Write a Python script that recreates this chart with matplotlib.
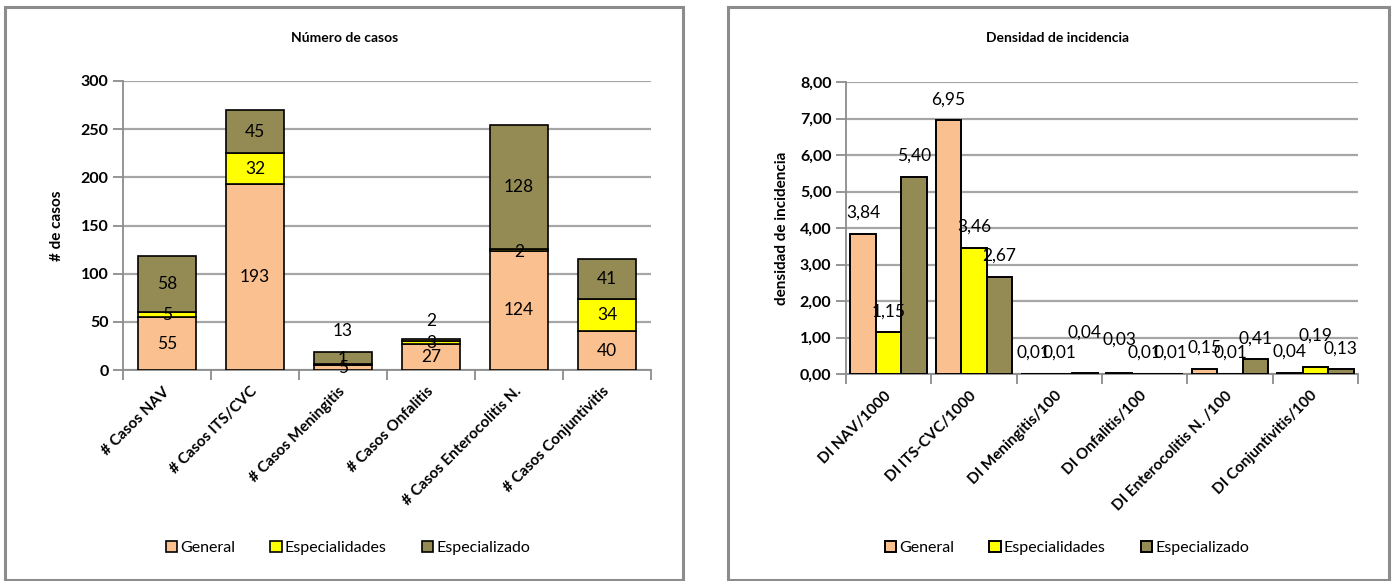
import numpy as np
import matplotlib.pyplot as plt
from matplotlib.patches import Rectangle

plt.rcParams['font.family'] = ['Lato', 'DejaVu Sans']

# Number of cases per infection type, stacked by unit type
casos_labels = ["# Casos NAV", "# Casos ITS/CVC", "# Casos Meningitis",
                "# Casos Onfalitis", "# Casos Enterocolitis N.", "# Casos Conjuntivitis"]
casos_general = [55, 193, 5, 27, 124, 40]
casos_especialidades = [5, 32, 1, 3, 2, 34]
casos_especializado = [58, 45, 13, 2, 128, 41]

# Incidence density per infection type
di_labels = ["DI NAV/1000", "DI ITS-CVC/1000", "DI Meningitis/100",
             "DI Onfalitis/100", "DI Enterocolitis N. /100", "DI Conjuntivitis/100"]
di_general = [3.84, 6.95, 0.01, 0.03, 0.15, 0.04]
di_especialidades = [1.15, 3.46, 0.01, 0.01, 0.01, 0.19]
di_especializado = [5.40, 2.67, 0.04, 0.01, 0.41, 0.13]

series_names = ["General", "Especialidades", "Especializado"]
colors = ["#FAC090", "#FFFF00", "#948A54"]

# extra vertical shift for a few crowded labels
casos_nudge = [[0, 0, 0, 0, 0, 0], [0, 0, 5.5, 0, -2, 0], [0, 0, 28, 20, 0, 0]]
di_nudge = [[0, 0, 0, 0.35, 0, 0], [0, 0, 0, 0, 0, 0.3], [0, 0, 0.52, 0, 0, 0]]

W, H = 1394, 581
fig = plt.figure(figsize=(W / 100, H / 100), dpi=100)

# chart frames
for x0, x1 in [(5, 683), (728, 1389)]:
    fig.add_artist(Rectangle((x0 / W, 1 - 580 / H), (x1 - x0) / W, (580 - 7) / H,
                             transform=fig.transFigure, fill=False,
                             edgecolor="#8c8c8c", linewidth=2.2))

grid_c = "#a6a6a6"


def style_axes(ax, labels):
    ax.set_axisbelow(True)
    ax.yaxis.grid(True, color=grid_c, linewidth=1.6)
    for s in ["top", "right"]:
        ax.spines[s].set_visible(False)
    for s in ["left", "bottom"]:
        ax.spines[s].set_color("#8c8c8c")
        ax.spines[s].set_linewidth(1.3)
    ax.set_xlim(-0.5, len(labels) - 0.5)
    ax.set_xticks(np.arange(len(labels) + 1) - 0.5)
    ax.set_xticklabels([])
    ax.set_xticks(np.arange(len(labels)), minor=True)
    ax.set_xticklabels(labels, minor=True, rotation=45, ha="right", va="center",
                       rotation_mode="anchor", fontsize=11, fontweight="bold")
    ax.tick_params(axis="x", which="major", length=7, color="#8c8c8c", width=1.3)
    ax.tick_params(axis="x", which="minor", length=0, pad=14)
    ax.tick_params(axis="y", length=7, color="#8c8c8c", width=1.3, labelsize=11.5)
    for t in ax.get_yticklabels():
        t.set_fontweight("bold")


# ---- left: stacked case counts ----
ax1 = fig.add_axes([123 / W, 1 - 370 / H, (651 - 123) / W, (370 - 81) / H])
x = np.arange(len(casos_labels))
bottom = np.zeros(len(x))
for k, vals in enumerate([casos_general, casos_especialidades, casos_especializado]):
    vals = np.array(vals, dtype=float)
    ax1.bar(x, vals, 0.67, bottom=bottom, color=colors[k], edgecolor="black",
            linewidth=1.2, label=series_names[k], zorder=3)
    for i, v in enumerate(vals):
        ax1.text(x[i], bottom[i] + v / 2 + casos_nudge[k][i], f"{int(v)}",
                 ha="center", va="center", fontsize=12.5, zorder=4)
    bottom += vals
ax1.set_ylim(0, 300)
ax1.set_yticks(range(0, 301, 50))
style_axes(ax1, casos_labels)
ax1.set_ylabel("# de casos", fontsize=11, fontweight="bold", labelpad=12)
fig.text(345 / W, 1 - 38 / H, "Número de casos", ha="center", va="center",
         fontsize=10, fontweight="bold")

# ---- right: grouped incidence density ----
ax2 = fig.add_axes([846 / W, 1 - 374 / H, (1358 - 846) / W, (374 - 82) / H])
x = np.arange(len(di_labels))
bw = 0.3
for k, vals in enumerate([di_general, di_especialidades, di_especializado]):
    pos = x + (k - 1) * bw
    ax2.bar(pos, vals, bw, color=colors[k], edgecolor="black", linewidth=1.4,
            label=series_names[k], zorder=3)
    for i, v in enumerate(vals):
        ax2.text(pos[i], v + 0.57 + di_nudge[k][i], f"{v:.2f}".replace(".", ","),
                 ha="center", va="center", fontsize=12.5, zorder=4)
ax2.set_ylim(0, 8)
ax2.set_yticks(range(0, 9))
ax2.set_yticklabels([f"{v},00" for v in range(0, 9)])
style_axes(ax2, di_labels)
ax2.set_ylabel("densidad de incidencia", fontsize=11, fontweight="bold", labelpad=8)
fig.text(1058 / W, 1 - 38 / H, "Densidad de incidencia", ha="center", va="center",
         fontsize=10, fontweight="bold")

# legends under each chart
for ax, cx in [(ax1, 348), (ax2, 1067)]:
    h, l = ax.get_legend_handles_labels()
    fig.legend(h, l, loc="center", bbox_to_anchor=(cx / W, 1 - 548 / H), ncol=3,
               frameon=False, fontsize=11.5, handlelength=0.7, handleheight=0.7,
               handletextpad=0.2, columnspacing=2.2, borderaxespad=0)

fig.savefig("out.png", dpi=100)
